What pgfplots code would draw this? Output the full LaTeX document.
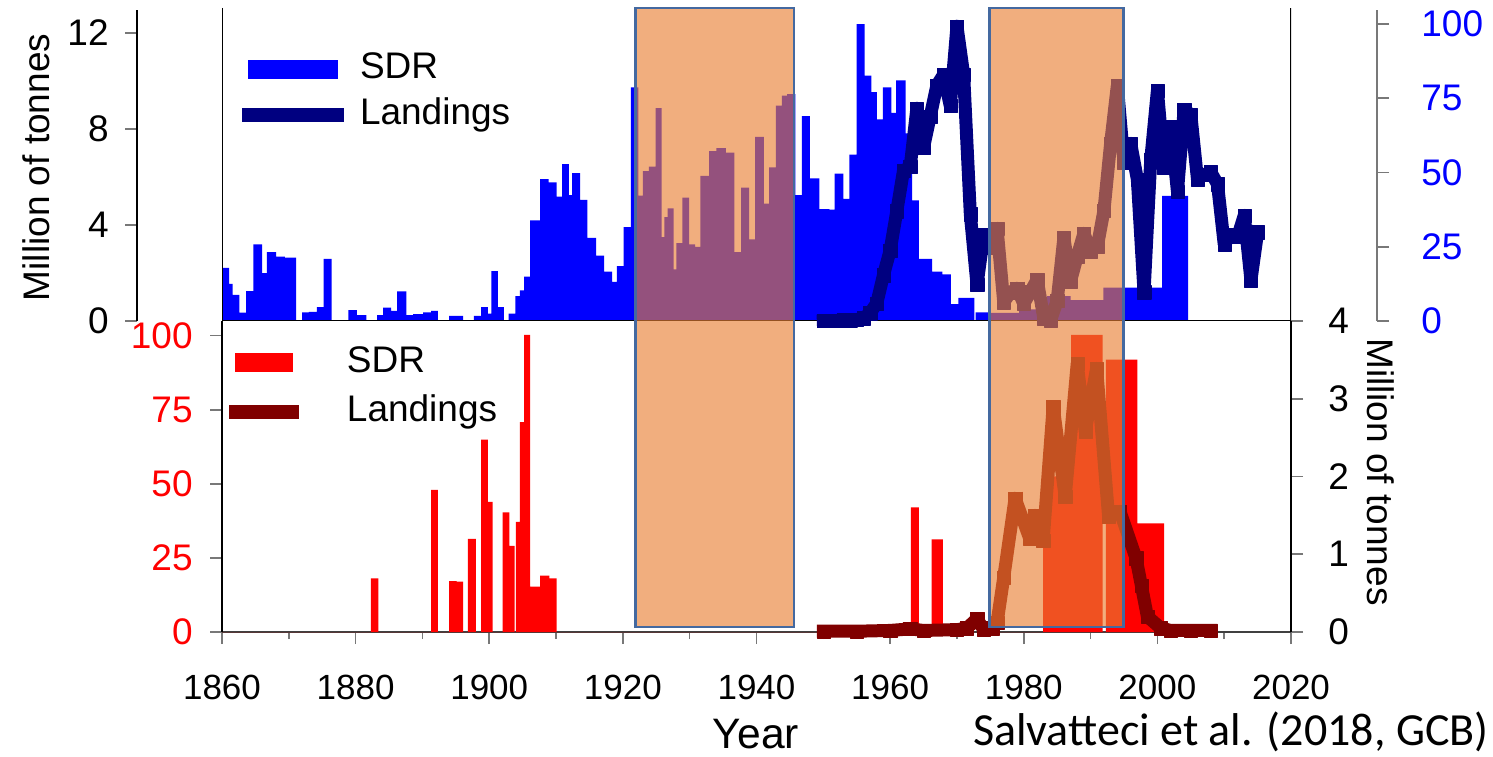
\documentclass[border=0pt]{standalone}
\usepackage{fontspec}
\setmainfont{Liberation Sans}
\newfontfamily\carlito{Carlito}
\usepackage{pgfplots}
\pgfplotsset{compat=1.18}
\definecolor{navyc}{RGB}{0,0,128}
\definecolor{maroonc}{RGB}{128,0,0}
\definecolor{sdrblue}{RGB}{0,0,255}
\definecolor{sdrred}{RGB}{255,0,0}
\definecolor{boxfill}{RGB}{233,128,53}
\definecolor{boxedge}{RGB}{68,105,160}
\definecolor{tickgray}{RGB}{120,120,120}
\newcommand{\tfont}{\fontsize{18.5pt}{22pt}\selectfont}
\newcommand{\xfont}{\fontsize{17.5pt}{21pt}\selectfont}
\pgfplotsset{
  base/.style={scale only axis, anchor=south west, xmin=1860, xmax=2020,
    /pgf/number format/assume math mode=true,
    /pgf/number format/1000 sep={},
    tick label style={font=\tfont},
    tick align=outside, major tick length=6pt,
    tick style={tickgray, line width=0.8pt},
    axis line style={line width=0.8pt},
  },
  lg/.style={draw=none, fill=none, inner sep=0pt, outer sep=0pt,
    font=\tfont, cells={anchor=west},
    nodes={inner sep=0pt, text height=13.5pt, text depth=4pt}},
}
\begin{document}
\begin{tikzpicture}
\useasboundingbox (0,0) rectangle (746.5pt,378pt);

% ---------- top panel: SDR bars (right blue scale) ----------
\begin{axis}[base, at={(111pt,217.5pt)}, width=534.5pt, height=156.5pt,
  ymin=0, ymax=105.39, hide axis,
  legend style={lg, at={(axis description cs:0.0187,0.8610)}, anchor=north west,
    row sep=5.5pt, column sep=8pt}]
\addplot[const plot, fill=sdrblue, draw=none, forget plot] coordinates {
(1860.0,17.9) (1861.05,12.5) (1861.6,8.8) (1862.6,2.8) (1863.6,10.1) (1864.7,25.8)
(1866.0,16.1) (1866.7,23.2) (1868.1,21.7) (1869.4,21.3) (1871.1,0) (1872.0,2.9)
(1873.0,3.1) (1874.2,4.7) (1875.2,20.9) (1876.4,0) (1878.9,3.7) (1880.2,2.0)
(1881.6,0) (1883.2,2.0) (1884.1,4.5) (1885.3,3.4) (1886.2,10.0) (1887.6,2.0)
(1888.6,2.3) (1890.1,2.9) (1891.3,3.4) (1892.3,0) (1894.0,1.7) (1896.1,0)
(1897.7,1.7) (1898.8,4.7) (1899.8,2.5) (1900.3,16.8) (1901.3,4.7) (1902.2,0)
(1902.9,2.5) (1903.9,8.4) (1904.6,10.3) (1905.2,14.9) (1906.1,33.9) (1907.6,47.8)
(1908.9,46.7) (1910.1,41.9) (1910.9,52.8) (1911.9,42.4) (1912.4,49.8) (1913.6,40.8)
(1914.7,28.0) (1916.0,22.0) (1917.2,16.6) (1918.4,13.2) (1919.1,18.5) (1920.1,31.6)
(1921.2,78.7) (1922.3,42.2) (1923.0,50.5) (1923.9,52.0) (1924.9,71.7) (1925.8,28.2)
(1926.2,35.0) (1926.7,37.9) (1927.6,17.4) (1928.0,26.2) (1928.9,41.5) (1929.9,25.8)
(1930.8,25.0) (1931.6,48.9) (1932.9,57.2) (1934.0,58.2) (1935.4,56.7) (1936.7,23.2)
(1937.7,44.9) (1938.9,27.5) (1939.8,62.0) (1941.1,39.5) (1941.9,51.7) (1942.9,72.5)
(1943.8,75.9) (1944.6,76.4) (1945.8,42.4) (1946.8,69.0) (1948.0,48.0) (1949.4,37.7)
(1950.9,37.5) (1951.7,49.6) (1953.0,41.1) (1953.9,56.0) (1955.0,100.0) (1956.2,82.6)
(1957.2,77.1) (1958.0,67.9) (1958.9,78.7) (1960.2,70.1) (1960.9,81.0) (1962.3,63.2)
(1963.3,40.6) (1964.3,20.9) (1966.3,16.6) (1967.8,15.7) (1969.1,5.7) (1970.2,7.8)
(1972.6,0) (1972.8,2.9) (1974.85,2.7) (1979.3,3.9) (1983.5,8.4) (1987.0,7.0)
(1991.9,11.2) (2000.7,42.1) (2004.6,0)
} \closedcycle;
\addlegendimage{legend image code/.code={\fill[sdrblue, draw=none] (3pt,-4.75pt) rectangle (48pt,4.75pt); \path[draw=none, fill=none] (0pt,0pt) -- (51pt,0pt);}}
\addlegendentry{SDR}
\addlegendimage{legend image code/.code={\fill[navyc, draw=none] (0pt,-3.5pt) rectangle (51pt,3.5pt);}}
\addlegendentry{Landings}
\draw[black, line width=0.9pt] (rel axis cs:0,1) -- (rel axis cs:0,0) -- (rel axis cs:1,0) -- (rel axis cs:1,1);
\end{axis}

% ---------- top panel: landings (left black scale) ----------
\begin{axis}[base, at={(111pt,217.5pt)}, width=534.5pt, height=156.5pt,
  ymin=0, ymax=13.04, hide axis, clip=false]
\addplot[navyc, line width=6.5pt, line join=round, line cap=rect, mark=square*,
  mark size=3.3pt, mark options={line width=0.1pt}] coordinates {
(1950,0.0) (1951,0.01) (1952,0.02) (1953,0.04) (1954,0.04) (1955,0.06) (1956,0.12)
(1957,0.33) (1958,0.74) (1959,1.91) (1960,2.94) (1961,4.58) (1962,6.27) (1963,6.42)
(1964,8.86) (1965,7.23) (1966,8.53) (1967,9.82) (1968,10.26) (1969,8.96) (1970,12.28)
(1971,10.28) (1972,4.45) (1973,1.51) (1974,3.58) (1975,3.08) (1976,3.86) (1977,0.79)
(1978,1.19) (1979,1.36) (1980,0.72) (1981,1.22) (1982,1.72) (1983,0.12) (1984,0.02)
(1985,0.84) (1986,3.47) (1987,1.66) (1988,2.7) (1989,3.65) (1990,2.9) (1991,3.1)
(1992,4.6) (1993,7.4) (1994,9.8) (1995,6.6) (1996,7.4) (1997,5.9) (1998,1.2)
(1999,6.7) (2000,9.6) (2001,6.4) (2002,8.1) (2003,5.4) (2004,8.8) (2005,8.6)
(2006,5.9) (2007,6.1) (2008,6.2) (2009,5.7) (2010,3.2) (2011,3.6) (2012,3.5)
(2013,4.4) (2014,1.7) (2015,3.7)
};
\end{axis}

% ---------- bottom panel: SDR bars (left red scale) + x axis ----------
\begin{axis}[base, at={(111pt,62pt)}, width=534.5pt, height=155.5pt,
  ymin=0, ymax=104.96,
  axis x line*=bottom, axis y line*=left,
  x axis line style={draw=black!75},
  y axis line style={draw=black},
  xtick={1860,1880,...,2020}, minor xtick={1870,1890,...,2010},
  minor tick length=3.5pt, major tick length=6pt,
  xticklabel style={font=\xfont, anchor=north, inner sep=0pt, yshift=-15.5pt},
  ytick={0,25,50,75,100}, yticklabel style={text=sdrred, inner sep=0pt, xshift=-8.5pt},
  legend style={lg, at={(axis description cs:0.0065,0.9213)}, anchor=north west,
    row sep=7.25pt, column sep=24pt}]
\addplot[const plot, fill=sdrred, draw=none, forget plot] coordinates {
(1860,0) (1882.3,18.1) (1883.4,0) (1891.3,48.0) (1892.3,0) (1894.0,17.2) (1895.1,17.0)
(1896.1,0) (1896.8,31.4) (1898.0,0) (1898.8,64.9) (1899.8,43.9) (1900.5,0)
(1902.0,40.4) (1903.0,29.1) (1903.8,0) (1904.0,37.2) (1904.6,70.8) (1905.2,100.3)
(1906.1,15.3) (1907.6,19.0) (1909.0,18.1) (1910.1,0) (1963.1,42.1) (1964.3,0)
(1966.2,31.3) (1967.9,0) (1982.9,52.5) (1987.1,100.3) (1991.8,0) (1992.3,91.9)
(1997.0,36.7) (2001.0,0)
} \closedcycle;
\addlegendimage{legend image code/.code={\fill[sdrred, draw=none] (3pt,-4.75pt) rectangle (32pt,4.75pt); \path[draw=none, fill=none] (0pt,0pt) -- (35pt,0pt);}}
\addlegendentry{SDR}
\addlegendimage{legend image code/.code={\fill[maroonc, draw=none] (0pt,-3.5pt) rectangle (35pt,3.5pt);}}
\addlegendentry{Landings}
\end{axis}

% ---------- bottom panel: landings (right black scale) ----------
\begin{axis}[base, at={(111pt,62pt)}, width=534.5pt, height=155.5pt,
  ymin=0, ymax=4, axis y line*=right, axis x line=none, clip=false,
  y axis line style={draw=black},
  ytick={0,1,2,3,4}, yticklabel style={inner sep=0pt, xshift=12.5pt}]
\addplot[maroonc, line width=6.5pt, line join=round, line cap=rect, mark=square*,
  mark size=3.3pt, mark options={line width=0.1pt}] coordinates {
(1950,0.01) (1955,0.01) (1960,0.02) (1963,0.04) (1965,0.02) (1970,0.03) (1971.5,0.05)
(1973.0,0.17) (1974.0,0.03) (1975.3,0.05) (1976.0,0.12) (1977.0,0.7) (1978.7,1.72)
(1980.9,1.2) (1981.7,1.5) (1982.9,1.18) (1984.4,2.9) (1986.2,1.74) (1988.0,3.45)
(1989.2,2.58) (1990.9,3.39) (1992.7,1.48) (1994.4,1.55) (1996.8,0.95) (1997.6,0.6)
(1998.5,0.2) (2000.5,0.05) (2002,0.02) (2005,0.02) (2008,0.02)
};
\end{axis}

% ---------- offset left axis of top panel ----------
\begin{axis}[base, at={(68.5pt,217.5pt)}, width=1pt, height=155.5pt,
  xmin=0, xmax=1, ymin=0, ymax=12.96, axis y line*=left, axis x line=none,
  y axis line style={draw=black},
  ytick={0,4,8,12}, yticklabel style={inner sep=0pt, xshift=-8pt}]
\end{axis}

% ---------- offset right (blue) axis of top panel ----------
\begin{axis}[base, at={(687.5pt,217.5pt)}, width=1pt, height=155.5pt,
  xmin=0, xmax=1, ymin=0, ymax=104.7, axis y line*=right, axis x line=none,
  y axis line style={draw=tickgray},
  ytick={0,25,50,75,100}, yticklabel style={text=sdrblue, inner sep=0pt, xshift=16pt}]
\end{axis}

% ---------- highlighted periods ----------
\begin{axis}[base, at={(111pt,62pt)}, width=534.5pt, height=312pt,
  ymin=0, ymax=1, hide axis, clip=false]
\addplot[draw=boxedge, line width=1.3pt, fill=boxfill, fill opacity=0.64, draw opacity=1]
  coordinates {(1921.9,0.008) (1945.6,0.008) (1945.6,1) (1921.9,1)} -- cycle;
\addplot[draw=boxedge, line width=1.3pt, fill=boxfill, fill opacity=0.64, draw opacity=1]
  coordinates {(1974.9,0.008) (1994.9,0.008) (1994.9,1) (1974.9,1)} -- cycle;
\end{axis}

\node[rotate=90, font=\tfont] at (18pt,294.25pt) {Million of tonnes};
\node[rotate=-90, font=\tfont] at (690.5pt,142pt) {Million of tonnes};
\node[anchor=base, inner sep=0pt, font=\fontsize{21.3pt}{25pt}\selectfont] at (378pt,4pt) {Year};
\node[anchor=base east, inner sep=0pt, font=\carlito\fontsize{23pt}{27pt}\selectfont] at (744.5pt,5.5pt) {Salvatteci et al. (2018, GCB)};
\end{tikzpicture}
\end{document}
